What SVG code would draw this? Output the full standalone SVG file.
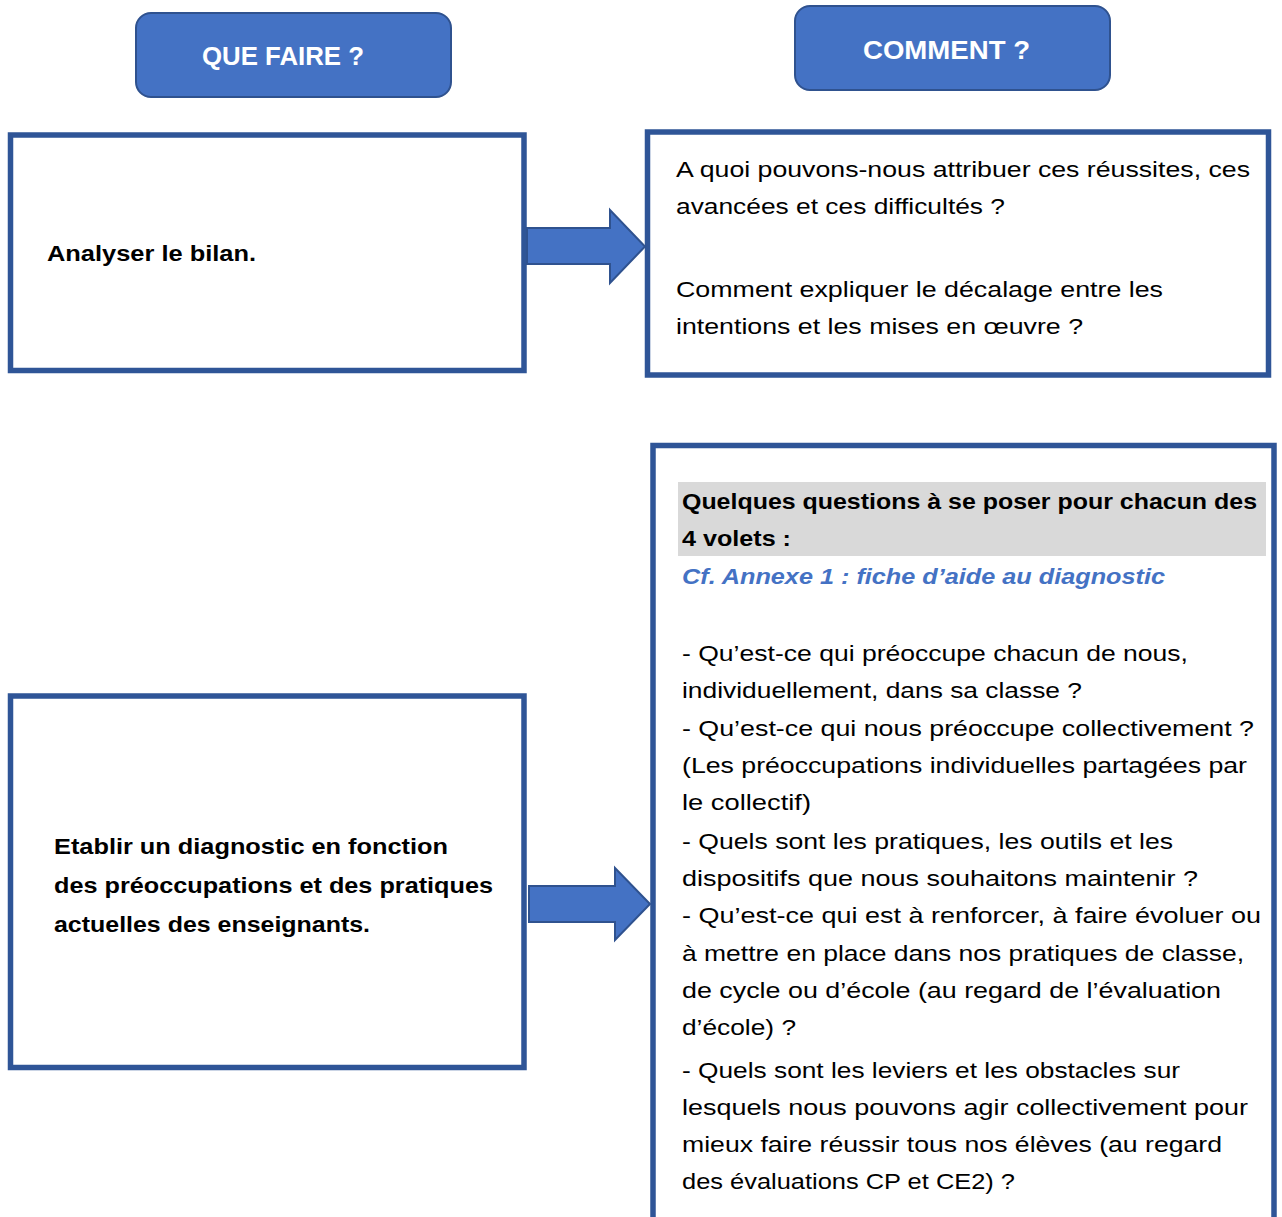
<svg xmlns="http://www.w3.org/2000/svg" width="1282" height="1217" viewBox="0 0 1282 1217">
<style>
.btn{fill:#4472C4;stroke:#2F528F;stroke-width:2}
.box{fill:#fff;stroke:#2F5597;stroke-width:5.5}
.arr{fill:#4472C4;stroke:#2F528F;stroke-width:2;stroke-linejoin:miter}
.t{font-family:"Liberation Sans",Arial,sans-serif;font-size:22px;fill:#000}
.b{font-weight:bold}
.h{font-family:"Liberation Sans",Arial,sans-serif;font-size:25px;font-weight:bold;fill:#fff}
.lnk{font-style:italic;font-weight:bold;fill:#4472C4}
</style>
<rect width="1282" height="1217" fill="#fff"/>
<g id="btn-que-faire">
<rect class="btn" x="136" y="13" width="315" height="84" rx="15"/>
<text class="h" x="202" y="65" textLength="162" lengthAdjust="spacingAndGlyphs">QUE FAIRE ?</text>
</g>
<g id="btn-comment">
<rect class="btn" x="795" y="6" width="315" height="84" rx="15"/>
<text class="h" x="863" y="59" textLength="167" lengthAdjust="spacingAndGlyphs">COMMENT ?</text>
</g>
<g id="box-analyser">
<rect class="box" x="10.5" y="135" width="513.5" height="235.5"/>
<text class="t b" x="47" y="261" textLength="209" lengthAdjust="spacingAndGlyphs">Analyser le bilan.</text>
</g>
<g id="box-attribuer">
<rect class="box" x="647.5" y="132" width="621" height="243"/>
<text class="t" x="676" y="177" textLength="574" lengthAdjust="spacingAndGlyphs">A quoi pouvons-nous attribuer ces réussites, ces</text>
<text class="t" x="676" y="214" textLength="329" lengthAdjust="spacingAndGlyphs">avancées et ces difficultés ?</text>
<text class="t" x="676" y="297" textLength="487" lengthAdjust="spacingAndGlyphs">Comment expliquer le décalage entre les</text>
<text class="t" x="676" y="334" textLength="407" lengthAdjust="spacingAndGlyphs">intentions et les mises en œuvre ?</text>
</g>
<g id="box-diagnostic">
<rect class="box" x="10.5" y="696" width="513.5" height="371.5"/>
<text class="t b" x="54" y="854" textLength="394" lengthAdjust="spacingAndGlyphs">Etablir un diagnostic en fonction</text>
<text class="t b" x="54" y="893" textLength="439" lengthAdjust="spacingAndGlyphs">des préoccupations et des pratiques</text>
<text class="t b" x="54" y="932" textLength="316" lengthAdjust="spacingAndGlyphs">actuelles des enseignants.</text>
</g>
<g id="box-questions">
<rect class="box" x="653" y="445.5" width="621" height="800"/>
<rect x="678" y="482" width="588" height="74" fill="#D9D9D9"/>
<text class="t b" x="682" y="509" textLength="575" lengthAdjust="spacingAndGlyphs">Quelques questions à se poser pour chacun des</text>
<text class="t b" x="682" y="546" textLength="109" lengthAdjust="spacingAndGlyphs">4 volets :</text>
<text class="t lnk" x="682" y="584" textLength="483" lengthAdjust="spacingAndGlyphs">Cf. Annexe 1 : fiche d’aide au diagnostic</text>
<text class="t" x="682" y="661" textLength="506" lengthAdjust="spacingAndGlyphs">- Qu’est-ce qui préoccupe chacun de nous,</text>
<text class="t" x="682" y="698" textLength="400" lengthAdjust="spacingAndGlyphs">individuellement, dans sa classe ?</text>
<text class="t" x="682" y="736" textLength="572" lengthAdjust="spacingAndGlyphs">- Qu’est-ce qui nous préoccupe collectivement ?</text>
<text class="t" x="682" y="773" textLength="565" lengthAdjust="spacingAndGlyphs">(Les préoccupations individuelles partagées par</text>
<text class="t" x="682" y="810" textLength="129" lengthAdjust="spacingAndGlyphs">le collectif)</text>
<text class="t" x="682" y="849" textLength="491" lengthAdjust="spacingAndGlyphs">- Quels sont les pratiques, les outils et les</text>
<text class="t" x="682" y="886" textLength="516" lengthAdjust="spacingAndGlyphs">dispositifs que nous souhaitons maintenir ?</text>
<text class="t" x="682" y="923" textLength="579" lengthAdjust="spacingAndGlyphs">- Qu’est-ce qui est à renforcer, à faire évoluer ou</text>
<text class="t" x="682" y="961" textLength="562" lengthAdjust="spacingAndGlyphs">à mettre en place dans nos pratiques de classe,</text>
<text class="t" x="682" y="998" textLength="539" lengthAdjust="spacingAndGlyphs">de cycle ou d’école (au regard de l’évaluation</text>
<text class="t" x="682" y="1035" textLength="114" lengthAdjust="spacingAndGlyphs">d’école) ?</text>
<text class="t" x="682" y="1078" textLength="498" lengthAdjust="spacingAndGlyphs">- Quels sont les leviers et les obstacles sur</text>
<text class="t" x="682" y="1115" textLength="566" lengthAdjust="spacingAndGlyphs">lesquels nous pouvons agir collectivement pour</text>
<text class="t" x="682" y="1152" textLength="540" lengthAdjust="spacingAndGlyphs">mieux faire réussir tous nos élèves (au regard</text>
<text class="t" x="682" y="1189" textLength="333" lengthAdjust="spacingAndGlyphs">des évaluations CP et CE2) ?</text>
</g>
<g id="connectors">
<polygon class="arr" points="527,228 610,228 610,210 645,246.5 610,283 610,264 527,264"/>
<polygon class="arr" points="529,886 615,886 615,868 650,904 615,940 615,922 529,922"/>
</g>
</svg>
